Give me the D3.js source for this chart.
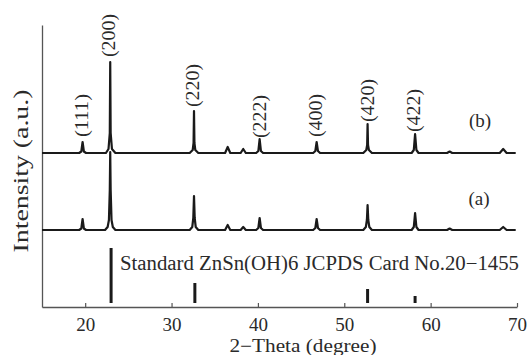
<!DOCTYPE html>
<html>
<head>
<meta charset="utf-8">
<script src="https://cdn.jsdelivr.net/npm/d3@7"></script>
<style>
  body { margin: 0; background: #fff; }
  svg { display: block; }
  text { font-family: "Liberation Serif", "DejaVu Serif", serif; fill: #2a2a2a; }
</style>
</head>
<body>
<div id="chart"></div>
<script>
// XRD patterns, [2theta, intensity above own baseline]
const patternB = [
  [15, 0],
  [19.3, 0], [19.55, 1.5], [19.7, 11], [19.85, 1.5], [20.1, 0],
  [22.4, 0], [22.7, 4], [22.85, 20], [22.9, 91], [22.95, 20], [23.1, 4], [23.5, 0],
  [32.1, 0], [32.45, 3], [32.55, 10], [32.6, 42], [32.65, 10], [32.75, 3], [33.1, 0],
  [36.2, 0], [36.5, 6], [36.8, 0],
  [38.0, 0], [38.3, 4], [38.6, 0],
  [39.8, 0], [40.05, 2], [40.2, 14], [40.35, 2], [40.6, 0],
  [46.4, 0], [46.65, 2], [46.8, 11], [46.95, 2], [47.2, 0],
  [52.2, 0], [52.55, 3], [52.65, 8], [52.7, 29], [52.75, 8], [52.85, 3], [53.2, 0],
  [57.8, 0], [58.05, 3], [58.2, 19], [58.35, 3], [58.6, 0],
  [61.9, 0], [62.2, 1.5], [62.5, 0],
  [68.0, 0], [68.4, 4], [68.8, 0],
  [69.85, 0]
];
const patternA = [
  [15, 0],
  [19.3, 0], [19.55, 1.5], [19.7, 11], [19.85, 1.5], [20.1, 0],
  [22.3, 0], [22.6, 3], [22.75, 10], [22.85, 40], [22.9, 78], [22.95, 40], [23.05, 10], [23.2, 3], [23.5, 0],
  [32.1, 0], [32.4, 3], [32.52, 12], [32.6, 34], [32.68, 12], [32.8, 3], [33.1, 0],
  [36.2, 0], [36.5, 5], [36.8, 0],
  [38.0, 0], [38.3, 3], [38.6, 0],
  [39.8, 0], [40.05, 2], [40.2, 12], [40.35, 2], [40.6, 0],
  [46.4, 0], [46.65, 2], [46.8, 11], [46.95, 2], [47.2, 0],
  [52.2, 0], [52.5, 3], [52.62, 10], [52.7, 25], [52.78, 10], [52.9, 3], [53.2, 0],
  [57.8, 0], [58.05, 3], [58.2, 17], [58.35, 3], [58.6, 0],
  [61.9, 0], [62.2, 1.5], [62.5, 0],
  [68.0, 0], [68.4, 3], [68.8, 0],
  [69.85, 0]
];
const offsetA = 77;
const offsetB = 154;

// standard card lines: [2theta, intensity]
const stdLines = [[23.0, 59], [32.7, 24], [52.7, 18], [58.2, 11]];
const stdBase = 4;

// hkl labels: [text, 2theta, bottom of label (intensity units)]
const hklLabels = [
  ['(111)', 19.6, 170], ['(200)', 22.8, 250], ['(220)', 32.5, 200],
  ['(222)', 40.2, 169], ['(400)', 46.7, 170], ['(420)', 52.7, 185], ['(422)', 58.1, 175]
];
const xTicks = [20, 30, 40, 50, 60, 70];

const width = 527, height = 355;
const margin = { top: 25, right: 10, bottom: 48, left: 42 };

const svg = d3.select('#chart').append('svg')
  .attr('width', width).attr('height', height);

const x = d3.scaleLinear().domain([15, 70]).range([margin.left, width - margin.right]);
const y = d3.scaleLinear().domain([0, 282]).range([height - margin.bottom, margin.top]);

// axes
const xAxis = svg.append('g')
  .attr('transform', `translate(0,${y(0)})`)
  .call(d3.axisBottom(x).tickValues(xTicks).tickSizeInner(-4).tickSizeOuter(0));
xAxis.select('.domain').attr('stroke', '#555').attr('stroke-width', 1.3);
xAxis.selectAll('.tick line').attr('stroke', '#555').attr('stroke-width', 1.2);
xAxis.selectAll('.tick text')
  .attr('fill', '#2a2a2a')
  .style('font-family', '"Liberation Serif", serif')
  .style('font-size', '19px')
  .attr('dy', null)
  .attr('y', 24);

const yAxis = svg.append('g')
  .attr('transform', `translate(${x(15)},0)`)
  .call(d3.axisLeft(y).tickValues([]).tickSizeOuter(0));
yAxis.select('.domain').attr('stroke', '#555').attr('stroke-width', 1.3);

// patterns
const line = d3.line()
  .x(d => x(d[0]))
  .curve(d3.curveLinear);

svg.append('path')
  .datum(patternA)
  .attr('fill', 'none')
  .attr('stroke', '#1a1a1a')
  .attr('stroke-width', 2.2)
  .attr('stroke-linejoin', 'round')
  .attr('d', line.y(d => y(d[1] + offsetA)));

svg.append('path')
  .datum(patternB)
  .attr('fill', 'none')
  .attr('stroke', '#1a1a1a')
  .attr('stroke-width', 2.2)
  .attr('stroke-linejoin', 'round')
  .attr('d', line.y(d => y(d[1] + offsetB)));

// standard lines
svg.selectAll('.std')
  .data(stdLines)
  .enter()
  .append('line')
  .attr('x1', d => x(d[0]))
  .attr('x2', d => x(d[0]))
  .attr('y1', y(stdBase))
  .attr('y2', d => y(d[1]))
  .attr('stroke', '#1a1a1a')
  .attr('stroke-width', 3);

svg.append('text')
  .attr('x', 120)
  .attr('y', 270)
  .attr('textLength', 399)
  .attr('lengthAdjust', 'spacingAndGlyphs')
  .style('font-size', '20px')
  .text('Standard ZnSn(OH)6 JCPDS Card No.20\u22121455');

// hkl labels
svg.selectAll('.hkl')
  .data(hklLabels)
  .enter()
  .append('text')
  .attr('transform', d => `translate(${x(d[1]) + 6},${y(d[2])}) rotate(-90)`)
  .attr('textLength', 43)
  .attr('lengthAdjust', 'spacingAndGlyphs')
  .style('font-size', '18px')
  .text(d => d[0]);

// sample labels
svg.append('text').attr('x', 480).attr('y', 127).attr('text-anchor', 'middle')
  .style('font-size', '19px').text('(b)');
svg.append('text').attr('x', 479).attr('y', 205).attr('text-anchor', 'middle')
  .style('font-size', '19px').text('(a)');

// axis titles
svg.append('text')
  .attr('x', 303).attr('y', 352)
  .attr('text-anchor', 'middle')
  .attr('textLength', 147)
  .attr('lengthAdjust', 'spacingAndGlyphs')
  .style('font-size', '18px')
  .text('2\u2212Theta (degree)');

svg.append('text')
  .attr('transform', 'translate(28,171) rotate(-90)')
  .attr('text-anchor', 'middle')
  .attr('textLength', 163)
  .attr('lengthAdjust', 'spacingAndGlyphs')
  .style('font-size', '20px')
  .text('Intensity (a.u.)');
</script>
</body>
</html>
